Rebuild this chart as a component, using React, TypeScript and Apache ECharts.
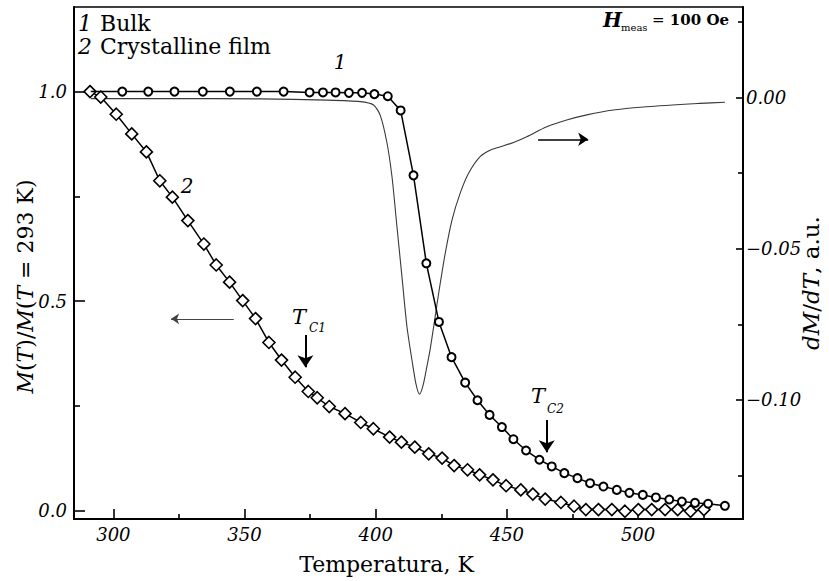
import React, { useEffect, useRef } from 'react';
import * as echarts from 'echarts';

// ---- data ----
const bulkT = [291.4, 303.4, 313.3, 323.3, 334.1, 344.4, 354.7, 364.9, 374.8, 379.9, 384.7, 389.8, 394.8, 399.5, 404.6, 409.5, 414.4, 419.3, 424.1, 428.9, 434.1, 438.8, 443.4, 448.1, 452.5, 457.3, 462.4, 467.1, 471.9, 476.9, 481.7, 486.8, 491.9, 496.7, 501.8, 506.8, 511.9, 516.7, 521.7, 526.7, 533.1];
const bulkM = [1.0, 1.0, 1.0, 1.0, 1.0, 1.0, 1.0, 1.0, 0.998, 0.998, 0.998, 0.997, 0.997, 0.994, 0.989, 0.955, 0.800, 0.590, 0.450, 0.366, 0.305, 0.263, 0.228, 0.199, 0.170, 0.143, 0.121, 0.105, 0.089, 0.077, 0.065, 0.057, 0.049, 0.042, 0.037, 0.031, 0.026, 0.021, 0.018, 0.016, 0.011];

const filmT = [291.1, 295.2, 301.1, 307.0, 312.6, 317.7, 322.5, 328.4, 334.5, 339.2, 344.3, 349.3, 354.2, 359.3, 364.1, 369.3, 374.3, 377.7, 382.3, 388.3, 394.3, 399.1, 405.3, 409.8, 414.9, 420.2, 425.3, 429.9, 435.0, 439.6, 444.7, 449.7, 455.3, 459.9, 464.6, 470.6, 475.6, 480.1, 484.9, 490.0, 495.0, 500.1, 505.2, 510.3, 515.1, 520.0, 525.1];
const filmM = [1.0, 0.987, 0.946, 0.899, 0.856, 0.787, 0.748, 0.692, 0.636, 0.586, 0.545, 0.501, 0.458, 0.401, 0.359, 0.318, 0.284, 0.269, 0.248, 0.231, 0.210, 0.195, 0.175, 0.163, 0.151, 0.135, 0.125, 0.107, 0.097, 0.085, 0.073, 0.059, 0.049, 0.039, 0.027, 0.019, 0.010, 0.002, 0.002, 0.002, -0.002, 0.002, 0.002, 0.002, 0.002, -0.002, 0.002];

const derivT = [291.5, 320.0, 356.0, 381.5, 394.1, 399.2, 401.8, 404.3, 406.2, 408.1, 410.0, 411.9, 413.8, 415.3, 416.7, 418.1, 419.5, 420.8, 422.1, 424.0, 426.5, 429.1, 432.2, 435.4, 439.8, 444.0, 448.5, 452.5, 457.6, 465.2, 472.8, 480.5, 490.6, 503.3, 523.6, 533.1];
const derivD = [-0.0003, -0.0003, -0.0004, -0.0008, -0.0013, -0.0024, -0.0060, -0.0150, -0.0261, -0.0427, -0.0592, -0.0757, -0.0867, -0.0945, -0.0981, -0.0950, -0.0890, -0.0830, -0.0757, -0.0647, -0.0515, -0.0404, -0.0316, -0.0250, -0.0195, -0.0172, -0.0160, -0.0148, -0.0129, -0.0096, -0.0074, -0.0057, -0.0041, -0.0030, -0.0019, -0.0015];

const xMajorTicks = [300, 350, 400, 450, 500];
const xMinorTicks = [325, 375, 425, 475, 525];
const leftMajorTicks = [0, 0.5, 1.0];
const leftMinorTicks = [0.25, 0.75];
const rightMajorTicks = [-0.1, -0.05, 0];
const rightMinorTicks = [-0.125, -0.075, -0.025, 0.025];

const Tc1 = 373.2;
const Tc2 = 465.2;

const SERIF = "'DejaVu Serif', serif";

const txt = (x: number, y: number, text: string, size: number, extra: any = {}) => ({
  type: 'text',
  x,
  y,
  silent: true,
  z: 100,
  style: {
    text,
    fontFamily: SERIF,
    fontSize: size,
    lineHeight: size,
    fill: '#000',
    align: 'left',
    verticalAlign: 'middle',
    ...extra,
  },
});

const tickLabel = { fontFamily: SERIF, fontStyle: 'italic', fontSize: 18, color: '#000' };
const tickLine = { color: '#000', width: 1.6 };

export default function App() {
  const ref = useRef<HTMLDivElement>(null);

  useEffect(() => {
    if (!ref.current) return;
    const chart = echarts.init(ref.current, undefined, { renderer: 'svg' });

    const option: any = {
      animation: false,
      backgroundColor: '#fff',
      grid: {
        left: 74,
        right: 86,
        top: 7,
        bottom: 62,
        containLabel: false,
        outerBoundsMode: 'none',
        show: true,
        borderColor: '#000',
        borderWidth: 1.5,
        backgroundColor: 'transparent',
      },
      xAxis: [
        {
          type: 'value',
          min: 285,
          max: 540,
          position: 'bottom',
          axisLine: { show: true, onZero: false, lineStyle: { color: '#000', width: 2 } },
          axisTick: { show: true, inside: true, length: 10, customValues: xMajorTicks, lineStyle: tickLine },
          axisLabel: { customValues: xMajorTicks, margin: 6, ...tickLabel },
          splitLine: { show: false },
          name: 'Temperatura, K',
          nameLocation: 'middle',
          nameGap: 34,
          nameMoveOverlap: false,
          nameTextStyle: { fontFamily: SERIF, fontSize: 22, color: '#000', padding: [0, 44, 0, 0] },
        },
        {
          type: 'value',
          min: 285,
          max: 540,
          position: 'bottom',
          axisLine: { show: false, onZero: false },
          axisTick: { show: true, inside: true, length: 5, customValues: xMinorTicks, lineStyle: tickLine },
          axisLabel: { show: false },
          splitLine: { show: false },
        },
      ],
      yAxis: [
        {
          type: 'value',
          min: -0.0205,
          max: 1.202,
          position: 'left',
          axisLine: { show: true, onZero: false, lineStyle: { color: '#000', width: 2 } },
          axisTick: { show: true, inside: true, length: 11, customValues: leftMajorTicks, lineStyle: tickLine },
          axisLabel: { customValues: leftMajorTicks, margin: 7, formatter: (v: number) => v.toFixed(1), ...tickLabel },
          splitLine: { show: false },
          name: '{i|M}{r|(}{i|T}{r|)/}{i|M}{r|(}{i|T}{r| = 293 K)}',
          nameLocation: 'middle',
          nameRotate: 90,
          nameGap: 38,
          nameMoveOverlap: false,
          nameTextStyle: {
            fontFamily: SERIF,
            fontSize: 22,
            color: '#000',
            padding: [0, 47, 0, 0],
            rich: {
              i: { fontFamily: SERIF, fontSize: 22, fontStyle: 'italic', color: '#000' },
              r: { fontFamily: SERIF, fontSize: 22, color: '#000' },
            },
          },
        },
        {
          type: 'value',
          min: -0.0205,
          max: 1.202,
          position: 'left',
          axisLine: { show: false, onZero: false },
          axisTick: { show: true, inside: true, length: 6, customValues: leftMinorTicks, lineStyle: tickLine },
          axisLabel: { show: false },
          splitLine: { show: false },
        },
        {
          type: 'value',
          min: -0.1394,
          max: 0.03,
          position: 'right',
          axisLine: { show: true, onZero: false, lineStyle: { color: '#000', width: 2 } },
          axisTick: { show: true, inside: true, length: 7, customValues: rightMajorTicks, lineStyle: tickLine },
          axisLabel: {
            customValues: rightMajorTicks,
            margin: 3,
            formatter: (v: number) => (Math.abs(v) < 1e-9 ? '0.00' : (v < 0 ? '\u2212' : '') + Math.abs(v).toFixed(2)),
            ...tickLabel,
          },
          splitLine: { show: false },
          name: '{i|dM}{r|/}{i|dT}{r|, a.u.}',
          nameLocation: 'middle',
          nameRotate: 90,
          nameGap: 56,
          nameMoveOverlap: false,
          nameTextStyle: {
            fontFamily: SERIF,
            fontSize: 23,
            color: '#000',
            padding: [0, 40, 0, 0],
            rich: {
              i: { fontFamily: SERIF, fontSize: 23, fontStyle: 'italic', color: '#000' },
              r: { fontFamily: SERIF, fontSize: 23, color: '#000' },
            },
          },
        },
        {
          type: 'value',
          min: -0.1394,
          max: 0.03,
          position: 'right',
          axisLine: { show: false, onZero: false },
          axisTick: { show: true, inside: true, length: 5, customValues: rightMinorTicks, lineStyle: tickLine },
          axisLabel: { show: false },
          splitLine: { show: false },
        },
      ],
      series: [
        {
          type: 'line',
          name: 'dM/dT',
          xAxisIndex: 0,
          yAxisIndex: 2,
          data: derivT.map((t, i) => [t, derivD[i]]),
          showSymbol: false,
          smooth: 0.25,
          lineStyle: { color: '#3a3a3a', width: 1.1 },
          z: 1,
          markLine: {
            silent: true,
            animation: false,
            label: { show: false },
            symbol: ['none', 'arrow'],
            data: [
              [
                { coord: [461.9, -0.01376], symbol: 'none', lineStyle: { color: '#000', width: 1.5, type: 'solid' } },
                { coord: [481.0, -0.01376], symbol: 'arrow', symbolSize: 10 },
              ],
            ],
          },
        },
        {
          type: 'line',
          name: 'Crystalline film',
          xAxisIndex: 0,
          yAxisIndex: 0,
          data: filmT.map((t, i) => [t, filmM[i]]),
          symbol: 'diamond',
          symbolSize: 12,
          showSymbol: true,
          showAllSymbol: true,
          itemStyle: { color: '#fff', borderColor: '#000', borderWidth: 1.6 },
          lineStyle: { color: '#000', width: 1.5 },
          z: 2,
          markLine: {
            silent: true,
            animation: false,
            label: { show: false },
            symbol: ['none', 'arrow'],
            data: [
              [
                { coord: [345.9, 0.4575], symbol: 'none', lineStyle: { color: '#444', width: 1, type: 'solid' } },
                { coord: [322.0, 0.4575], symbol: 'arrow', symbolSize: 8 },
              ],
              [
                { coord: [Tc1, 0.419], symbol: 'none', lineStyle: { color: '#000', width: 2, type: 'solid' } },
                { coord: [Tc1, 0.342], symbol: 'arrow', symbolSize: 12 },
              ],
              [
                { coord: [Tc2, 0.216], symbol: 'none', lineStyle: { color: '#000', width: 2, type: 'solid' } },
                { coord: [Tc2, 0.139], symbol: 'arrow', symbolSize: 12 },
              ],
            ],
          },
        },
        {
          type: 'line',
          name: 'Bulk',
          xAxisIndex: 0,
          yAxisIndex: 0,
          data: bulkT.map((t, i) => (i === 0 ? { value: [t, bulkM[i]], symbol: 'none' } : [t, bulkM[i]])),
          symbol: 'circle',
          symbolSize: 8,
          showSymbol: true,
          showAllSymbol: true,
          itemStyle: { color: '#fff', borderColor: '#000', borderWidth: 2 },
          lineStyle: { color: '#000', width: 1.5 },
          z: 3,
        },
      ],
      graphic: [
        txt(78, 23, '1', 22, { fontStyle: 'italic' }),
        txt(100, 23, 'Bulk', 22),
        txt(78, 46, '2', 22, { fontStyle: 'italic' }),
        txt(100, 46, 'Crystalline film', 22),
        txt(603, 20, 'H', 20, { fontStyle: 'italic', fontWeight: 'bold' }),
        txt(621, 27, 'meas', 10),
        txt(652, 20, '=', 15),
        txt(729, 20, '100 Oe', 15, { fontWeight: 'bold', align: 'right' }),
        txt(340, 62, '1', 20, { fontStyle: 'italic', align: 'center' }),
        txt(187, 186, '2', 20, { fontStyle: 'italic', align: 'center' }),
        txt(292, 317, 'T', 21, { fontStyle: 'italic' }),
        txt(309, 328, 'C1', 12, { fontStyle: 'italic' }),
        txt(531, 396, 'T', 21, { fontStyle: 'italic' }),
        txt(547, 409, 'C2', 12, { fontStyle: 'italic' }),
      ],
    };

    chart.setOption(option);
    return () => chart.dispose();
  }, []);

  return (
    <div
      ref={ref}
      style={{ position: 'fixed', left: 0, top: 0, width: 829, height: 581, background: '#fff' }}
    />
  );
}
